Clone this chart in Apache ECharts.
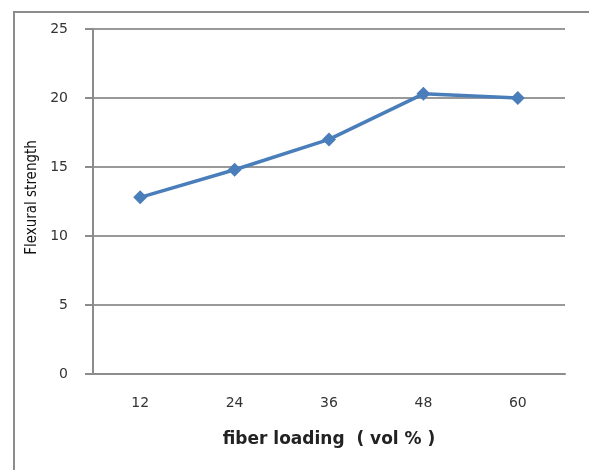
<!DOCTYPE html>
<html>
<head>
<meta charset="utf-8">
<script src="https://cdn.jsdelivr.net/npm/echarts@6/dist/echarts.min.js"></script>
<style>
html,body{margin:0;padding:0;background:#fff;}
#chart{width:589px;height:470px;}
</style>
</head>
<body>
<div id="chart"></div>
<script>
var categories = ['12', '24', '36', '48', '60'];
var flexuralStrength = [12.8, 14.8, 17.0, 20.3, 20.0];
var yTicks = [0, 5, 10, 15, 20, 25];

var chart = echarts.init(document.getElementById('chart'), null, {renderer: 'canvas'});
chart.setOption({
  animation: false,
  backgroundColor: '#ffffff',
  graphic: [{
    type: 'rect',
    shape: {x: 14, y: 12, width: 600, height: 500},
    style: {fill: 'none', stroke: '#8c8c8c', lineWidth: 2},
    silent: true
  }],
  grid: {left: 93, right: 24, top: 29, bottom: 96, containLabel: false},
  xAxis: {
    type: 'category',
    data: categories,
    boundaryGap: true,
    name: 'fiber loading  ( vol % )',
    nameLocation: 'middle',
    nameGap: 57,
    nameTextStyle: {fontFamily: 'DejaVu Sans', fontWeight: 'bold', fontSize: 17, color: '#222'},
    axisLine: {show: true, lineStyle: {color: '#8c8c8c', width: 2}},
    axisTick: {show: false},
    axisLabel: {margin: 22, fontFamily: 'DejaVu Sans', fontSize: 14, color: '#333'},
    splitLine: {show: false}
  },
  yAxis: {
    type: 'value',
    min: yTicks[0],
    max: yTicks[yTicks.length - 1],
    interval: 5,
    name: 'Flexural strength',
    nameLocation: 'middle',
    nameGap: 51,
    nameRotate: 90,
    nameTextStyle: {fontFamily: 'DejaVu Sans Condensed', fontSize: 15, color: '#111', padding: [0, 0, 0, 8]},
    axisLine: {show: true, lineStyle: {color: '#8c8c8c', width: 2}},
    axisTick: {show: true, length: 8, inside: false, lineStyle: {color: '#8c8c8c', width: 2}},
    axisLabel: {margin: 25, fontFamily: 'DejaVu Sans', fontSize: 14, color: '#333'},
    splitLine: {show: true, lineStyle: {color: '#999999', width: 2}}
  },
  series: [{
    type: 'line',
    data: flexuralStrength,
    symbol: 'diamond',
    symbolSize: 14,
    lineStyle: {color: '#4a7ebb', width: 3.5},
    itemStyle: {color: '#4a7ebb'}
  }]
});
</script>
</body>
</html>
